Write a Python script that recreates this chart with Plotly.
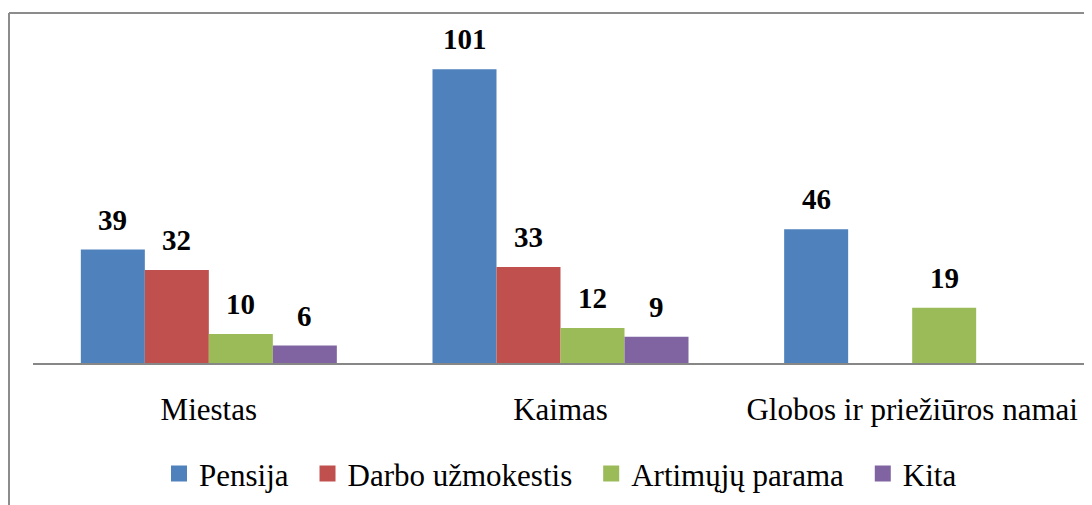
import plotly.graph_objects as go

categories = ["Miestas", "Kaimas", "Globos ir priežiūros namai"]
series_names = ["Pensija", "Darbo užmokestis", "Artimųjų parama", "Kita"]
pensija = [39, 101, 46]
darbo = [32, 33, None]
artimuju = [10, 12, 19]
kita = [6, 9, None]
colors = ["#4F81BD", "#C0504D", "#9BBB59", "#8064A2"]

series_values = [pensija, darbo, artimuju, kita]

FONT = "Times New Roman"
OFF = 8  # page body margin offset
W, H = 1092, 505
ml, mt = 33 - OFF, 14 - OFF
mr = W - (1088 - OFF)
mb = H - (363 - OFF)
bargap = 0.272
n = len(series_names)
bw = (1 - bargap) / n

fig = go.Figure()
for name, vals, col in zip(series_names, series_values, colors):
    fig.add_trace(go.Bar(
        x=categories, y=vals, name=name, showlegend=False,
        marker=dict(color=col, line=dict(width=0)),
    ))
# legend entries with larger square swatches
for k, (name, col) in enumerate(zip(series_names, colors)):
    label = name + ("\u00a0\u2009" if k < len(series_names) - 1 else "")
    fig.add_trace(go.Scatter(
        x=[None], y=[None], name=label, mode="markers",
        marker=dict(symbol="square", size=16, color=col),
    ))

annotations = []
for j, vals in enumerate(series_values):
    for i, v in enumerate(vals):
        if v is None:
            continue
        annotations.append(dict(
            x=i + (j - (n - 1) / 2) * bw, y=v, xref="x", yref="y",
            text="<b>%d</b>" % v, showarrow=False, yanchor="bottom",
            yshift=12,
            font=dict(family=FONT, size=29, color="black"),
        ))

pw = W - ml - mr
ph = H - mt - mb
fx0 = (1 - ml) / pw
fy1 = (H - mb - (13 - OFF)) / ph
fig.add_shape(type="line", xref="paper", yref="paper",
              x0=fx0, x1=(W + 5 - ml) / pw, y0=fy1, y1=fy1,
              line=dict(color="#8c8c8c", width=2))
fig.add_shape(type="line", xref="paper", yref="paper",
              x0=fx0, x1=fx0, y0=fy1, y1=(H - mb - (H + 5)) / ph,
              line=dict(color="#8c8c8c", width=2))

fig.update_layout(
    width=W, height=H,
    margin=dict(l=ml, r=mr, t=mt, b=mb),
    paper_bgcolor="white", plot_bgcolor="white",
    barmode="group", bargap=bargap, bargroupgap=0,
    font=dict(family=FONT, size=30, color="black"),
    showlegend=True,
    legend=dict(orientation="h", x=0.5, xanchor="center", y=-0.24, yanchor="top",
                font=dict(family=FONT, size=31, color="black"), itemwidth=30,
                traceorder="normal", itemsizing="trace"),
    annotations=annotations,
    xaxis=dict(showline=True, linecolor="#878787", linewidth=1.5, showgrid=False,
               ticks="", tickfont=dict(family=FONT, size=31, color="black"),
               ticklabelstandoff=18),
    yaxis=dict(range=[0, 120], visible=False, showgrid=False, zeroline=False),
)

fig.write_html("out.html")
